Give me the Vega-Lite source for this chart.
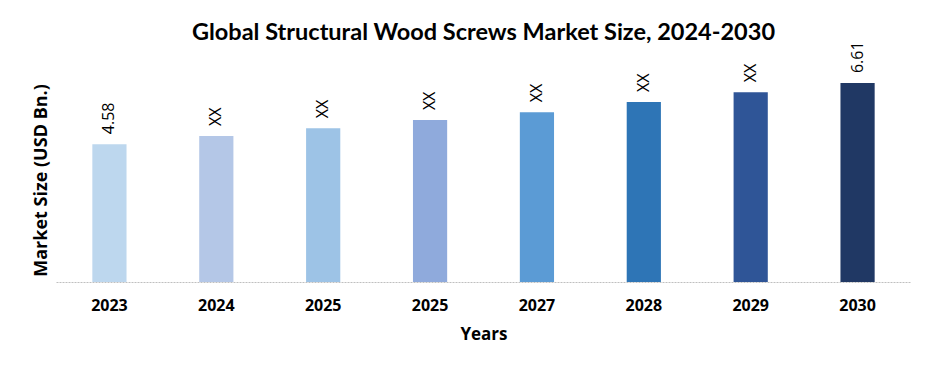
{
  "$schema": "https://vega.github.io/schema/vega-lite/v6.json",
  "autosize": {"type": "none"},
  "width": 855,
  "height": 204,
  "padding": {"left": 56, "top": 78, "right": 24, "bottom": 95},
  "background": "white",
  "title": {
    "text": "Global Structural Wood Screws  Market Size, 2024-2030",
    "font": "Lato",
    "fontSize": 23.5,
    "fontWeight": "bold",
    "color": "#000000",
    "anchor": "middle",
    "baseline": "bottom",
    "offset": 1,
    "dy": 28
  },
  "data": {
    "values": [
      {"Year": "2023", "Value": 4.58, "Label": "4.58", "Color": "#BDD7EE"},
      {"Year": "2024", "Value": 4.85, "Label": "XX", "Color": "#B4C7E7"},
      {"Year": "2025", "Value": 5.11, "Label": "XX", "Color": "#9DC3E6"},
      {"Year": "2025 ", "Value": 5.38, "Label": "XX", "Color": "#8FAADC"},
      {"Year": "2027", "Value": 5.64, "Label": "XX", "Color": "#5B9BD5"},
      {"Year": "2028", "Value": 5.98, "Label": "XX", "Color": "#2E75B6"},
      {"Year": "2029", "Value": 6.31, "Label": "XX", "Color": "#2F5597"},
      {"Year": "2030", "Value": 6.61, "Label": "6.61", "Color": "#203864"}
    ]
  },
  "encoding": {
    "x": {
      "field": "Year",
      "type": "nominal",
      "sort": null,
      "scale": {"paddingInner": 0.68, "paddingOuter": 0.34},
      "axis": {
        "title": "Years",
        "titleFont": "Open Sans",
        "titleFontSize": 17,
        "titleFontWeight": "bold",
        "titleColor": "#000000",
        "titlePadding": 13,
        "labelFont": "Open Sans",
        "labelFontSize": 16,
        "labelFontWeight": "bold",
        "labelColor": "#000000",
        "labelAngle": 0,
        "labelPadding": 15,
        "ticks": false,
        "domainColor": "#BFBFBF",
        "domainDash": [2, 1],
        "domainWidth": 1
      }
    },
    "y": {
      "field": "Value",
      "type": "quantitative",
      "scale": {"domain": [0, 6.78], "nice": false},
      "axis": {
        "title": "Market Size (USD Bn.)",
        "titleFont": "Open Sans",
        "titleFontSize": 18,
        "titleFontWeight": "bold",
        "titleColor": "#000000",
        "titlePadding": 6,
        "labels": false,
        "ticks": false,
        "domain": false,
        "grid": false
      }
    }
  },
  "layer": [
    {
      "mark": {"type": "bar"},
      "encoding": {
        "color": {"field": "Color", "type": "nominal", "scale": null}
      }
    },
    {
      "mark": {
        "type": "text",
        "angle": 270,
        "align": "left",
        "baseline": "middle",
        "dx": 10,
        "font": "Open Sans",
        "fontSize": 16,
        "fontWeight": 500,
        "color": "#000000"
      },
      "encoding": {
        "text": {"field": "Label", "type": "nominal"}
      }
    }
  ],
  "config": {"view": {"stroke": null}}
}
